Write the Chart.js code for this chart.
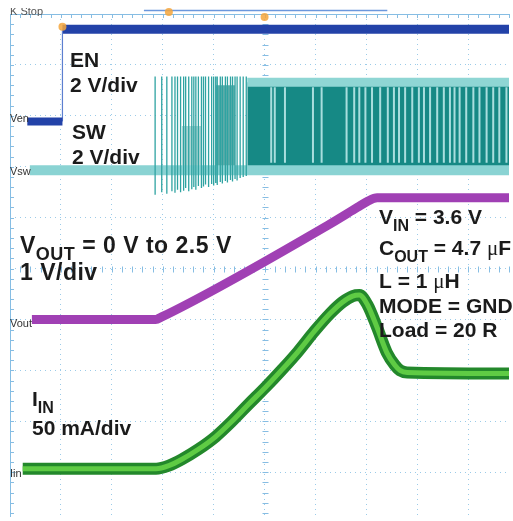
<!DOCTYPE html>
<html>
<head>
<meta charset="utf-8">
<script src="https://cdn.jsdelivr.net/npm/chart.js@4.4.1/dist/chart.umd.min.js"></script>
<style>
html, body { margin: 0; padding: 0; background: #fff; overflow: hidden; }
</style>
</head>
<body>
<canvas id="scope" width="513" height="521"></canvas>
<script>
var ctx = document.getElementById('scope');

// every value is in screen divisions, 0 = centre of the graticule
// EN channel (step)
var enTime = [-4.66, -3.97, -3.97, 4.8];
var enLevel = [2.89, 2.89, 4.70, 4.70];

// SW channel
var swBaseTime = [-4.61, 4.8];
var swBaseLevel = 1.93;
var swHigh = 3.77;
var pulseTimes = [-2.15, -2.02, -1.92, -1.82, -1.76, -1.71, -1.65, -1.59, -1.55, -1.49, -1.43, -1.39, -1.35, -1.30, -1.24, -1.20, -1.16,
  -1.10, -1.04, -1.00, -0.96, -0.93, -0.87, -0.83, -0.77, -0.73, -0.67, -0.63, -0.58, -0.54, -0.48, -0.42, -0.36];
var pulseDips = [1.45, 1.50, 1.47, 1.52, 1.49, 1.55, 1.50, 1.53, 1.58, 1.52, 1.56, 1.60, 1.55, 1.62, 1.58, 1.61, 1.65,
  1.60, 1.66, 1.63, 1.68, 1.64, 1.70, 1.67, 1.72, 1.69, 1.74, 1.71, 1.76, 1.73, 1.78, 1.80, 1.82];
var patchStart = [-1.63, -0.96];
var patchEnd = [-1.24, -0.58];
var patchTop = [2.80, 3.60];
var denseTime = [-0.34, 4.8];
var denseTop = 3.66;
var stripeTimes = [0.13, 0.20, 0.40, 0.95, 1.12, 1.61, 1.76, 1.86, 1.98, 2.11, 2.27, 2.42, 2.54, 2.64, 2.76, 2.90, 3.03, 3.13,
  3.25, 3.39, 3.52, 3.64, 3.73, 3.83, 3.96, 4.10, 4.22, 4.36, 4.49, 4.61, 4.75];
var stripeLow = 2.08, stripeHigh = 3.56;

// VOUT channel
var voutTime = [-4.57, -2.14, -2.02, 1.24, 1.82, 2.02, 2.21, 4.8];
var voutLevel = [-1.00, -1.00, -0.95, 0.85, 1.20, 1.32, 1.39, 1.39];

// IIN channel
var iinTime = [-4.75, -2.13, -1.88, -1.63, -1.30, -0.96, -0.65, -0.32, 0.01, 0.32, 0.65, 0.98, 1.29, 1.53, 1.73, 1.86,
  2.02, 2.21, 2.40, 2.56, 2.66, 2.80, 4.8];
var iinLevel = [-3.93, -3.93, -3.87, -3.75, -3.55, -3.30, -3.01, -2.67, -2.34, -2.01, -1.64, -1.23, -0.88, -0.66, -0.54, -0.52,
  -0.71, -1.16, -1.65, -1.90, -2.00, -2.04, -2.06];

// trigger / position markers
var markerTime = [-3.97, -1.88, 0.0];
var markerLevel = [4.75, 5.04, 4.94];
var posBarTime = [-2.37, 2.41];
var posBarLevel = 5.07;

function pts(t, v) {
  return t.map(function(x, i) { return {x: x, y: Array.isArray(v) ? v[i] : v}; });
}

var pulsePts = [];
pulseTimes.forEach(function(t, i) {
  pulsePts.push({x: t, y: pulseDips[i]}, {x: t, y: swHigh}, {x: t, y: null});
});
var stripePts = [];
stripeTimes.forEach(function(t) {
  stripePts.push({x: t, y: stripeLow}, {x: t, y: stripeHigh}, {x: t, y: null});
});

var patchSets = patchStart.map(function(s, i) {
  return {
    data: [{x: s, y: patchTop[i]}, {x: patchEnd[i], y: patchTop[i]}],
    fill: {value: swBaseLevel}, backgroundColor: i == 0 ? 'rgba(22,137,133,0.35)' : 'rgba(22,137,133,0.7)',
    borderWidth: 0, pointRadius: 0, order: 9
  };
});

var notes = [
  {x: 70, y: 67, parts: [['EN']]},
  {x: 70, y: 92, parts: [['2 V/div']]},
  {x: 72, y: 139, parts: [['SW']]},
  {x: 72, y: 164, parts: [['2 V/div']]},
  {x: 20, y: 253, big: true, parts: [['V'], ['OUT', 'sub'], [' = 0 V to 2.5 V']]},
  {x: 20, y: 280, big: true, parts: [['1 V/div']]},
  {x: 379, y: 224, parts: [['V'], ['IN', 'sub'], [' = 3.6 V']]},
  {x: 379, y: 255, parts: [['C'], ['OUT', 'sub'], [' = 4.7 '], ['\u03bc', 'mu'], ['F']]},
  {x: 379, y: 288, parts: [['L = 1 '], ['\u03bc', 'mu'], ['H']]},
  {x: 379, y: 313, parts: [['MODE = GND']]},
  {x: 379, y: 337, parts: [['Load = 20 R']]},
  {x: 32, y: 406, parts: [['I'], ['IN', 'sub']]},
  {x: 32, y: 435, parts: [['50 mA/div']]}
];
var tags = [['Ven', 10, 122], ['Vsw', 10, 175], ['Vout', 10, 327], ['Iin', 10, 477]];

function fontFor(kind, big) {
  var s = big ? 23 : 21;
  if (kind == 'sub') return 'bold ' + (s - 5) + 'px "Liberation Sans", Arial, sans-serif';
  if (kind == 'mu') return s + 'px "Liberation Serif", serif';
  return 'bold ' + s + 'px "Liberation Sans", Arial, sans-serif';
}

var scopeDecor = {
  id: 'scopeDecor',
  beforeDatasetsDraw: function(chart) {
    var c = chart.ctx, xs = chart.scales.x, ys = chart.scales.y, a = chart.chartArea;
    var x0 = Math.round(xs.getPixelForValue(0)) + 0.5, y0 = Math.round(ys.getPixelForValue(0)) + 0.5;
    c.save();
    c.strokeStyle = '#86bde3';
    c.lineWidth = 1;
    c.beginPath();
    c.moveTo(a.left, a.top + 0.5); c.lineTo(a.right, a.top + 0.5);
    c.moveTo(a.left + 0.5, a.top); c.lineTo(a.left + 0.5, a.bottom);
    for (var k = -25; k <= 25; k++) {
      var v = k / 5;
      var px = Math.round(xs.getPixelForValue(v)) + 0.5;
      var py = Math.round(ys.getPixelForValue(v)) + 0.5;
      c.moveTo(px, a.top); c.lineTo(px, a.top + 4);
      c.moveTo(px, y0 - 3); c.lineTo(px, y0 + 3);
      c.moveTo(a.left, py); c.lineTo(a.left + 4, py);
      c.moveTo(x0 - 3, py); c.lineTo(x0 + 3, py);
    }
    c.stroke();
    c.restore();
  },
  afterDatasetsDraw: function(chart) {
    var c = chart.ctx;
    c.save();
    c.fillStyle = '#1b1b1b';
    c.textBaseline = 'alphabetic';
    notes.forEach(function(n) {
      var x = n.x;
      c.letterSpacing = n.big ? '0.5px' : '0px';
      n.parts.forEach(function(p) {
        var kind = p[1] || 'n';
        c.font = fontFor(kind, n.big);
        c.fillText(p[0], x, n.y + (kind == 'sub' ? 7 : 0));
        x += c.measureText(p[0]).width;
      });
    });
    c.letterSpacing = '0px';
    c.font = '11px "Liberation Sans", Arial, sans-serif';
    c.fillStyle = '#333';
    tags.forEach(function(t) { c.fillText(t[0], t[1], t[2]); });
    // half hidden status text at the very top
    c.beginPath(); c.rect(0, 8, 60, 8); c.clip();
    c.fillStyle = '#555';
    c.fillText('K Stop', 10, 15);
    c.restore();
  }
};

var myChart = new Chart(ctx, {
  type: 'line',
  data: {
    datasets: [
      {data: pts(markerTime, markerLevel), showLine: false, pointRadius: 4, pointBackgroundColor: 'rgba(245,166,60,0.85)',
        pointBorderWidth: 0, clip: false, order: 0},
      {data: pts(enTime.slice(0, 2), enLevel.slice(0, 2)), borderColor: '#2342a8', borderWidth: 8, pointRadius: 0, order: 1},
      {data: pts(enTime.slice(1, 3), enLevel.slice(1, 3)), borderColor: '#5d7fd0', borderWidth: 1.2, pointRadius: 0, order: 1},
      {data: pts(enTime.slice(2, 4), enLevel.slice(2, 4)), borderColor: '#2342a8', borderWidth: 9, pointRadius: 0, order: 1},
      {data: pts(iinTime, iinLevel), borderColor: '#5fcb44', borderWidth: 5, pointRadius: 0, cubicInterpolationMode: 'monotone', order: 2},
      {data: pts(iinTime, iinLevel), borderColor: '#23882b', borderWidth: 12, pointRadius: 0, cubicInterpolationMode: 'monotone', order: 3},
      {data: pts(voutTime, voutLevel), borderColor: '#a040b4', borderWidth: 9, pointRadius: 0, cubicInterpolationMode: 'monotone', order: 4},
      {data: stripePts, borderColor: 'rgba(185,232,232,0.9)', borderWidth: 2, pointRadius: 0, spanGaps: false, order: 5},
      {data: pulsePts, borderColor: '#2fa3a2', borderWidth: 1.3, pointRadius: 0, spanGaps: false, order: 6},
      {data: pts(swBaseTime, swBaseLevel), borderColor: '#8ad3d3', borderWidth: 10, pointRadius: 0, order: 7},
      {data: pts(denseTime, denseTop), fill: {value: swBaseLevel}, backgroundColor: '#168985', borderColor: '#8fd6d4',
        borderWidth: 9, pointRadius: 0, order: 8},
      patchSets[0], patchSets[1],
      {data: pts(posBarTime, posBarLevel), borderColor: '#6b97dc', borderWidth: 1.5, pointRadius: 0, clip: false, order: 10}
    ]
  },
  options: {
    responsive: false,
    animation: false,
    layout: {padding: {left: 10, top: 14, right: 0, bottom: 0}},
    plugins: {legend: {display: false}, tooltip: {enabled: false}},
    scales: {
      x: {
        type: 'linear', min: -5, max: 4.8,
        afterBuildTicks: function(axis) { axis.ticks = [-5, -4, -3, -2, -1, 0, 1, 2, 3, 4].map(function(v) { return {value: v}; }); },
        ticks: {display: false},
        grid: {color: '#9ccbe8', drawTicks: false},
        border: {display: false, dash: [1, 4]}
      },
      y: {
        type: 'linear', min: -4.88, max: 5,
        afterBuildTicks: function(axis) { axis.ticks = [-4, -3, -2, -1, 0, 1, 2, 3, 4, 5].map(function(v) { return {value: v}; }); },
        ticks: {display: false},
        grid: {color: '#9ccbe8', drawTicks: false},
        border: {display: false, dash: [1, 4]}
      }
    }
  },
  plugins: [scopeDecor]
});
</script>
</body>
</html>
